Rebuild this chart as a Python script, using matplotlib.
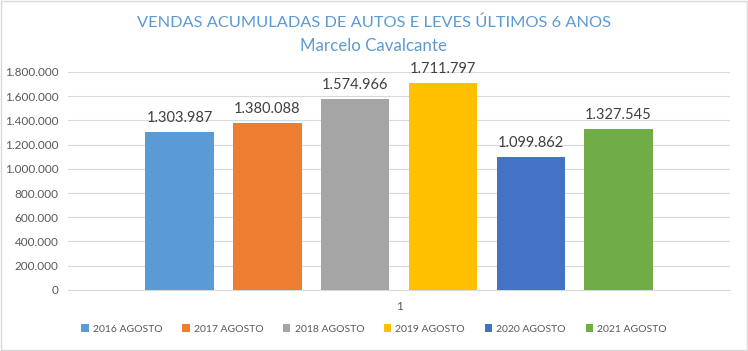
import matplotlib.pyplot as plt
from matplotlib.patches import Rectangle
from matplotlib.ticker import FuncFormatter

plt.rcParams['font.family'] = ['Lato', 'DejaVu Sans']

labels = ['2016 AGOSTO', '2017 AGOSTO', '2018 AGOSTO', '2019 AGOSTO', '2020 AGOSTO', '2021 AGOSTO']
values = [1303987, 1380088, 1574966, 1711797, 1099862, 1327545]
colors = ['#5B9BD5', '#ED7D31', '#A5A5A5', '#FFC000', '#4472C4', '#70AD47']


def br_fmt(v, pos=None):
    return f'{int(v):,}'.replace(',', '.')


fig = plt.figure(figsize=(7.48, 3.51), dpi=100)
ax = fig.add_axes([0.091, 0.174, 0.885, 0.621])

for i, (lab, val, col) in enumerate(zip(labels, values, colors)):
    ax.bar(i, val, width=0.78, color=col, label=lab, zorder=3)
    ax.annotate(br_fmt(val), (i, val), xytext=(0, 5), textcoords='offset points',
                ha='center', va='bottom', fontsize=10.5, color='#404040')

ax.set_ylim(0, 1800000)
ax.set_yticks(range(0, 1800001, 200000))
ax.yaxis.set_major_formatter(FuncFormatter(br_fmt))
ax.set_xlim(-1.27, 6.27)
ax.set_xticks([2.5])
ax.set_xticklabels(['1'])
ax.grid(axis='y', color='#D9D9D9', linewidth=0.8, zorder=0)
for s in ['top', 'right', 'left']:
    ax.spines[s].set_visible(False)
ax.spines['bottom'].set_color('#D9D9D9')
ax.tick_params(axis='both', length=0, labelsize=8.5, colors='#595959', pad=7)
ax.tick_params(axis='x', pad=8)

fig.text(0.5, 0.935, 'VENDAS ACUMULADAS DE AUTOS E LEVES ÚLTIMOS 6 ANOS',
         ha='center', va='center', fontsize=11.8, color='#5B9BD5')
fig.text(0.5, 0.87, 'Marcelo Cavalcante', ha='center', va='center', fontsize=12.2, color='#5B9BD5')

fig.legend(loc='center', bbox_to_anchor=(0.5, 0.063), ncol=6, frameon=False,
           fontsize=7.5, handlelength=0.7, handleheight=0.7, handletextpad=0.4,
           columnspacing=1.9, labelcolor='#595959')

fig.patches.append(Rectangle((0.001, 0.002), 0.997, 0.995, transform=fig.transFigure,
                             fill=False, edgecolor='#D9D9D9', linewidth=1))

fig.savefig('out.png', dpi=100)
